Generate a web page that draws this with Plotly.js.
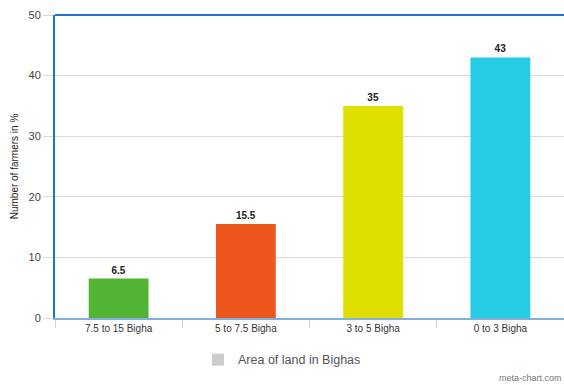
<!DOCTYPE html>
<html><head><meta charset="utf-8">
<script src="https://cdn.plot.ly/plotly-3.0.1.min.js"></script>
<style>html,body{margin:0;padding:0;background:#fff;}#chart{width:564px;height:385px;}</style>
</head><body><div id="chart"></div>
<script>
const categories = ["7.5 to 15 Bigha", "5 to 7.5 Bigha", "3 to 5 Bigha", "0 to 3 Bigha"];
const values = [6.5, 15.5, 35, 43];
const barColors = ["#52b435", "#ed571e", "#dfe000", "#26cbe4"];
const seriesName = "Area of land in Bighas";
const yTitle = "Number of farmers in %";

const traces = [
  {
    type: "bar", x: categories, y: values,
    marker: {color: barColors},
    text: values.map(v => "<b>" + v + "</b>"),
    textposition: "outside",
    textfont: {family: "Liberation Sans, Arial, sans-serif", size: 10, color: "#222"},
    cliponaxis: false,
    showlegend: false, hoverinfo: "x+y"
  },
  {
    type: "bar", x: [categories[0]], y: [null], name: seriesName,
    marker: {color: "#cccccc"}, showlegend: true
  }
];

const layout = {
  width: 564, height: 385,
  margin: {l: 55, r: 0, t: 15, b: 67},
  paper_bgcolor: "#fff", plot_bgcolor: "#fff",
  barmode: "overlay", bargap: 0.53,
  font: {family: "Liberation Sans, Arial, sans-serif", color: "#333"},
  xaxis: {
    type: "category", showgrid: false,
    showline: true, linecolor: "#7fb0df", linewidth: 1.5,
    ticks: "outside", tickson: "boundaries", ticklen: 8, tickcolor: "#c5d6e8",
    tickfont: {size: 10, color: "#333"}, fixedrange: true
  },
  yaxis: {
    range: [0, 50], dtick: 10, showgrid: true, gridcolor: "#d9d9d9",
    zeroline: false, showline: true, linecolor: "#1f74c8", linewidth: 2,
    ticks: "outside", ticklen: 10, tickcolor: "#d9d9d9",
    tickfont: {size: 11, color: "#444"},
    title: {text: yTitle, font: {size: 10, color: "#222"}, standoff: 8},
    fixedrange: true
  },
  shapes: [
    {type: "line", xref: "paper", yref: "paper", x0: 0, x1: 1, y0: 1, y1: 1,
     line: {color: "#1f74c8", width: 2}}
  ],
  legend: {
    orientation: "h", xref: "container", yref: "container",
    x: 0.5, xanchor: "center", y: 0.065, yanchor: "middle",
    font: {size: 12.5, color: "#555"}
  },
  annotations: [
    {text: "meta-chart.com", xref: "paper", yref: "paper", x: 1, y: -0.222,
     xanchor: "right", yanchor: "bottom", showarrow: false,
     font: {size: 9, color: "#777"}}
  ]
};

Plotly.newPlot("chart", traces, layout, {displayModeBar: false, staticPlot: true});
</script>
</body></html>
